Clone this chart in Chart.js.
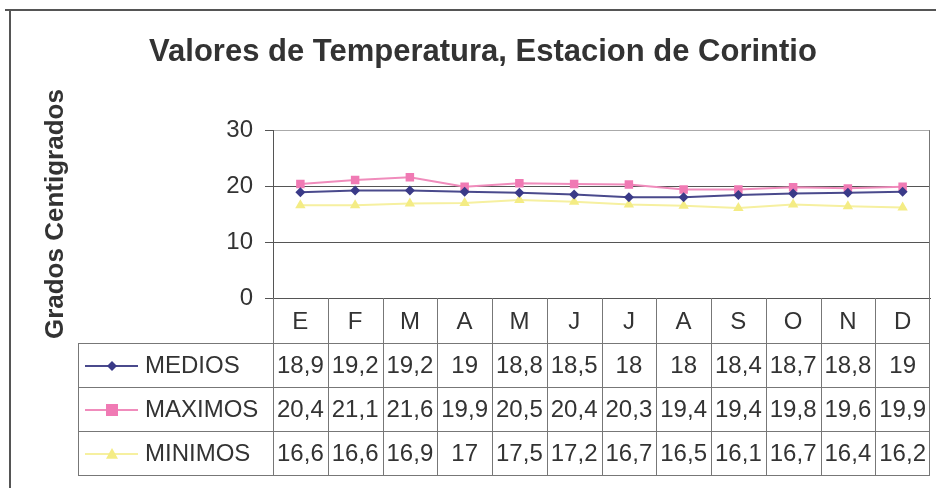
<!DOCTYPE html>
<html>
<head>
<meta charset="utf-8">
<script src="https://cdn.jsdelivr.net/npm/chart.js@4.4.1/dist/chart.umd.min.js"></script>
<style>
  html, body { margin: 0; padding: 0; background: #fff; }
  #wrap { width: 936px; height: 488px; }
</style>
</head>
<body>
<div id="wrap"><canvas id="temp"></canvas></div>
<script>
var meses = ['E', 'F', 'M', 'A', 'M', 'J', 'J', 'A', 'S', 'O', 'N', 'D'];
var medios = [18.9, 19.2, 19.2, 19, 18.8, 18.5, 18, 18, 18.4, 18.7, 18.8, 19];
var maximos = [20.4, 21.1, 21.6, 19.9, 20.5, 20.4, 20.3, 19.4, 19.4, 19.8, 19.6, 19.9];
var minimos = [16.6, 16.6, 16.9, 17, 17.5, 17.2, 16.7, 16.5, 16.1, 16.7, 16.4, 16.2];
var yTicks = [0, 10, 20, 30];

var FONT = '"Liberation Sans", Arial, sans-serif';

var series = [
    { label: 'MEDIOS', data: medios, color: '#4a4a8c', point: '#3a3a88', style: 'rectRot', r: 5 },
    { label: 'MAXIMOS', data: maximos, color: '#f08cbc', point: '#f07ab4', style: 'rect', r: 6 },
    { label: 'MINIMOS', data: minimos, color: '#f6f0a0', point: '#f4ec84', style: 'triangle', r: 6 }
];

function fmt(v) {
    return String(v).replace('.', ',');
}

// marco exterior y linea derecha del area de trazado
var frame = {
    id: 'frame',
    beforeDraw: function (chart) {
        var c = chart.ctx;
        c.save();
        c.strokeStyle = '#555';
        c.lineWidth = 2;
        c.beginPath();
        c.moveTo(5, 10);
        c.lineTo(chart.width, 10);
        c.moveTo(10, 10);
        c.lineTo(10, chart.height);
        c.stroke();
        c.restore();
    }
};

function marker(c, style, x, y, r) {
    c.beginPath();
    if (style === 'rectRot') {
        c.moveTo(x, y - r); c.lineTo(x + r, y); c.lineTo(x, y + r); c.lineTo(x - r, y);
    } else if (style === 'rect') {
        c.rect(x - r, y - r, 2 * r, 2 * r);
    } else {
        c.moveTo(x, y - r); c.lineTo(x + r, y + r * 0.8); c.lineTo(x - r, y + r * 0.8);
    }
    c.closePath();
    c.fill();
}

// tabla de datos debajo del eje
var dataTable = {
    id: 'dataTable',
    afterDraw: function (chart) {
        var c = chart.ctx;
        var area = chart.chartArea;
        var x = chart.scales.x;
        var step = x.getPixelForValue(1) - x.getPixelForValue(0);
        var rowH = 44;
        var top = area.bottom + 45;
        var legL = 78;
        var bottom = top + rowH * series.length;
        c.save();
        c.strokeStyle = '#777';
        c.lineWidth = 1;
        c.beginPath();
        for (var r = 0; r <= series.length; r++) {
            c.moveTo(legL, top + r * rowH + 0.5);
            c.lineTo(area.right, top + r * rowH + 0.5);
        }
        for (var i = 0; i <= meses.length; i++) {
            var bx = Math.round(x.getPixelForValue(0) - step / 2 + i * step) + 0.5;
            if (i === meses.length) bx -= 1;
            c.moveTo(bx, i === meses.length ? area.top : area.bottom);
            c.lineTo(bx, bottom);
        }
        c.moveTo(legL + 0.5, top);
        c.lineTo(legL + 0.5, bottom);
        c.stroke();

        c.font = '24px ' + FONT;
        c.textBaseline = 'middle';
        series.forEach(function (s, k) {
            var cy = top + k * rowH + rowH / 2 + 1;
            c.strokeStyle = s.color;
            c.lineWidth = 2;
            c.beginPath();
            c.moveTo(85, cy);
            c.lineTo(138, cy);
            c.stroke();
            c.fillStyle = s.point;
            marker(c, s.style, 112, cy, s.r);
            c.fillStyle = '#333';
            c.textAlign = 'left';
            c.fillText(s.label, 145, cy);
            c.textAlign = 'center';
            s.data.forEach(function (v, j) {
                c.fillText(fmt(v), x.getPixelForValue(j), cy);
            });
        });
        c.restore();
    }
};

new Chart(document.getElementById('temp'), {
    type: 'line',
    data: {
        labels: meses,
        datasets: series.map(function (s) {
            return {
                label: s.label,
                data: s.data,
                borderColor: s.color,
                backgroundColor: s.point,
                borderWidth: 2,
                pointStyle: s.style,
                pointRadius: s.r,
                pointBorderWidth: 0,
                tension: 0
            };
        })
    },
    options: {
        responsive: true,
        maintainAspectRatio: false,
        animation: false,
        layout: { padding: { left: 34, right: 4, top: 0, bottom: 0 } },
        plugins: {
            legend: { display: false },
            tooltip: { enabled: false },
            title: {
                display: true,
                text: 'Valores de Temperatura, Estacion de Corintio',
                color: '#333',
                font: { family: FONT, size: 31, weight: 'bold' },
                padding: { top: 34, bottom: 59 }
            }
        },
        scales: {
            x: {
                offset: true,
                afterFit: function (scale) { scale.height = 190; },
                grid: { display: false, drawTicks: false },
                border: { display: true, color: '#555', width: 1 },
                ticks: {
                    color: '#333',
                    padding: 10,
                    font: { family: FONT, size: 24 }
                }
            },
            y: {
                min: 0,
                max: 30,
                afterFit: function (scale) { scale.width = 239; },
                afterBuildTicks: function (scale) {
                    scale.ticks = yTicks.map(function (v) { return { value: v }; });
                },
                grid: {
                    color: function (ctx) { return ctx.tick && ctx.tick.value === 30 ? '#aaa' : '#555'; },
                    tickLength: 8,
                    tickColor: '#555'
                },
                border: { display: true, color: '#555', width: 1 },
                ticks: {
                    color: '#333',
                    padding: 12,
                    font: { family: FONT, size: 24 }
                },
                title: {
                    display: true,
                    text: 'Grados Centigrados',
                    color: '#333',
                    font: { family: FONT, size: 26, weight: 'bold' },
                    padding: { top: 6, bottom: 0 }
                }
            }
        }
    },
    plugins: [frame, dataTable]
});
</script>
</body>
</html>
